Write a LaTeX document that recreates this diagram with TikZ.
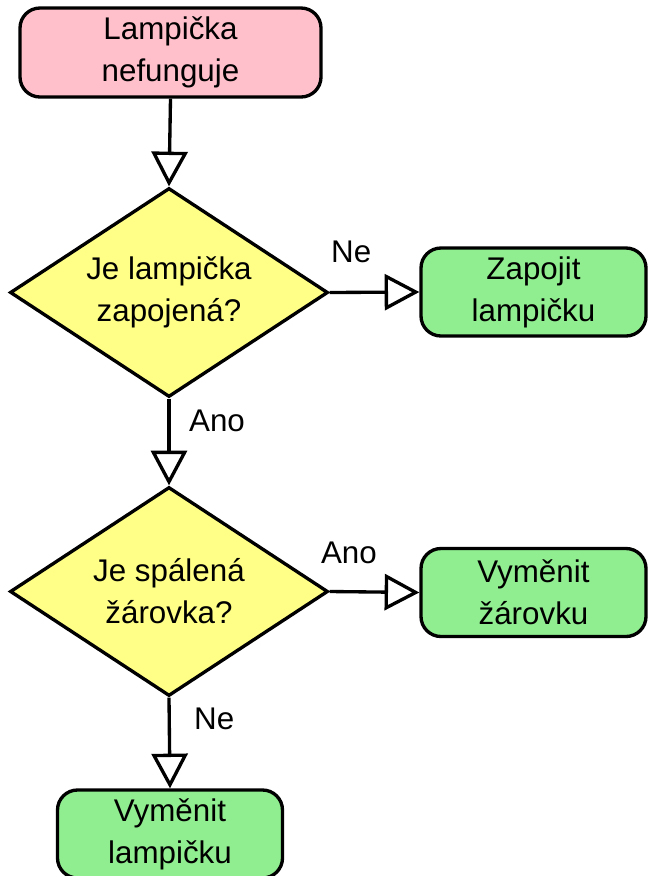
\documentclass[tikz,border=0pt]{standalone}
\usepackage{fontspec}
\setmainfont{Liberation Sans}
\usetikzlibrary{shapes.geometric,arrows.meta}
\definecolor{startpink}{RGB}{255,192,203}
\definecolor{decyellow}{RGB}{255,255,136}
\definecolor{actgreen}{RGB}{144,238,144}
\tikzset{
  base/.style={draw=black, line width=2.5pt, inner sep=0pt, align=center,
    font=\fontsize{23.5pt}{31.5pt}\selectfont, text=black},
  termbox/.style={base, rectangle, rounded corners=15pt, fill=startpink,
    minimum width=225.75pt, minimum height=66.75pt},
  actbox/.style={base, rectangle, rounded corners=15pt, fill=actgreen,
    minimum width=168.75pt, minimum height=66pt},
  decbox/.style={base, diamond, aspect=1.52, fill=decyellow,
    minimum width=238.5pt, minimum height=156.75pt},
  flow/.style={line width=2.5pt, -{Triangle[fill=white, length=26pt, width=27pt, line width=2.5pt]}},
  lbl/.style={font=\fontsize{23.5pt}{26pt}\selectfont, inner sep=0pt}
}
\begin{document}
\begin{tikzpicture}[x=0.75pt, y=-0.75pt]
\useasboundingbox[fill=white] (0,0) rectangle (648,876);
\node[termbox] (start) at (170.5,52.5) {Lampička\\nefunguje};
\node[decbox] (d1) at (169,292.5) {Je lampička\\zapojená?};
\node[actbox] (g1) at (533.5,292) {Zapojit\\lampičku};
\node[decbox] (d2) at (169,591.5) {Je spálená\\žárovka?};
\node[actbox] (g2) at (533.5,592.5) {Vyměnit\\žárovku};
\node[actbox] (g3) at (170,834) {Vyměnit\\lampičku};
\draw[flow] (start.south) -- (d1.north);
\draw[flow] (d1.east) -- node[lbl, pos=0.24, yshift=30.75pt] {Ne} (g1.west);
\draw[flow] (d1.south) -- node[lbl, pos=0.26, xshift=36pt] {Ano} (d2.north);
\draw[flow] (d2.east) -- node[lbl, pos=0.215, yshift=29.25pt] {Ano} (g2.west);
\draw[flow] (d2.south) -- node[lbl, pos=0.23, xshift=33.75pt] {Ne} (g3.north);
\end{tikzpicture}
\end{document}
